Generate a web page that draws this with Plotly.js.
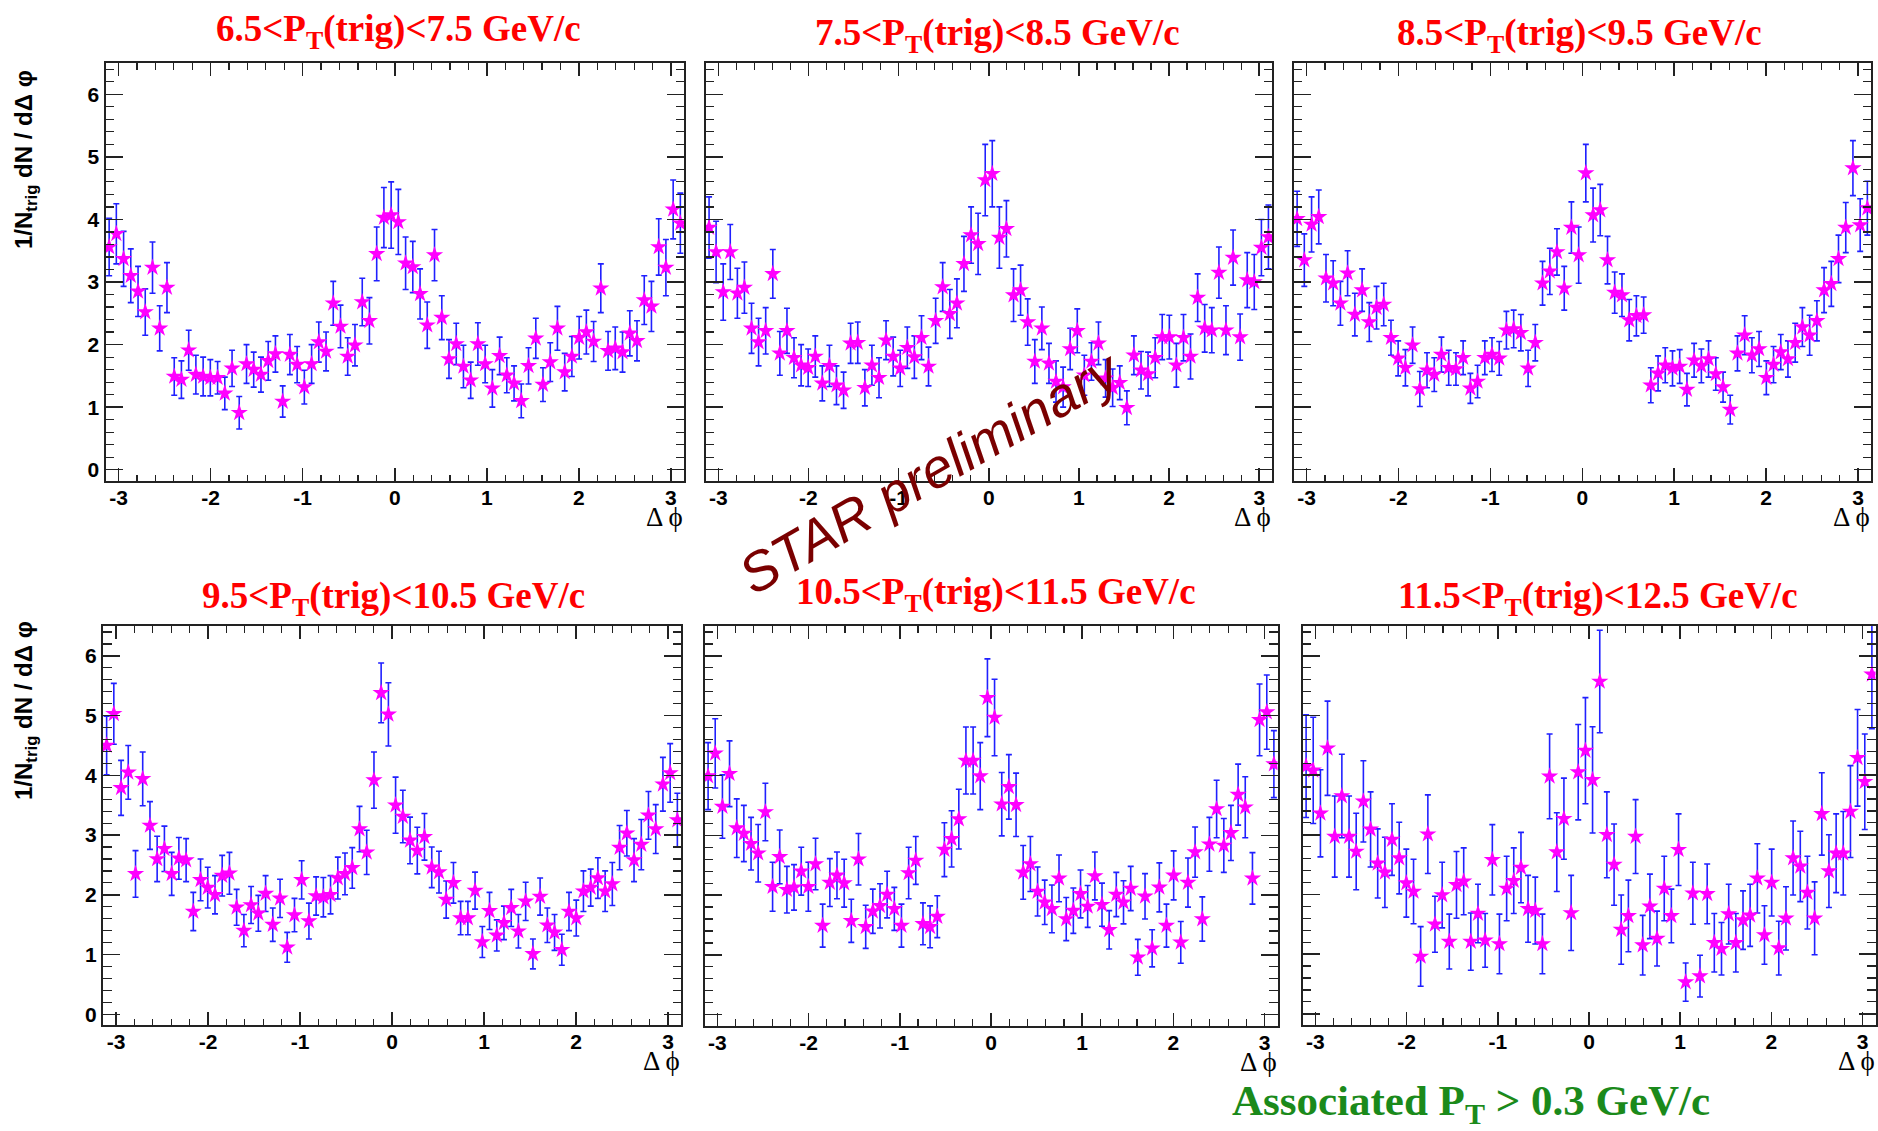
<!DOCTYPE html>
<html><head><meta charset="utf-8">
<script src="https://cdn.plot.ly/plotly-3.0.1.min.js"></script>
<style>html,body{margin:0;padding:0;background:#fff;} #chart{width:1878px;height:1131px;}</style>
</head><body><div id="chart"></div>
<script>
// Delta-phi bin centres (80 bins over -pi..pi)
const dphi = [-3.102,-3.024,-2.945,-2.867,-2.788,-2.710,-2.631,-2.553,-2.474,-2.395,
 -2.317,-2.238,-2.160,-2.081,-2.003,-1.924,-1.846,-1.767,-1.689,-1.610,
 -1.532,-1.453,-1.374,-1.296,-1.217,-1.139,-1.060,-0.982,-0.903,-0.825,
 -0.746,-0.668,-0.589,-0.511,-0.432,-0.353,-0.275,-0.196,-0.118,-0.039,
 0.039,0.118,0.196,0.275,0.353,0.432,0.511,0.589,0.668,0.746,
 0.825,0.903,0.982,1.060,1.139,1.217,1.296,1.374,1.453,1.532,
 1.610,1.689,1.767,1.846,1.924,2.003,2.081,2.160,2.238,2.317,
 2.395,2.474,2.553,2.631,2.710,2.788,2.867,2.945,3.024,3.102];

const panelTitles = ["6.5&lt;P<sub>T</sub>(trig)&lt;7.5 GeV/c","7.5&lt;P<sub>T</sub>(trig)&lt;8.5 GeV/c","8.5&lt;P<sub>T</sub>(trig)&lt;9.5 GeV/c",
 "9.5&lt;P<sub>T</sub>(trig)&lt;10.5 GeV/c","10.5&lt;P<sub>T</sub>(trig)&lt;11.5 GeV/c","11.5&lt;P<sub>T</sub>(trig)&lt;12.5 GeV/c"];

const xTickVals = [-3,-2,-1,0,1,2,3];
const xTickText = ["-3","-2","-1","0","1","2","3"];
const yTickVals = [0,1,2,3,4,5,6];
const yTickText = ["0","1","2","3","4","5","6"];

const yield1 = [3.56,3.77,3.37,3.10,2.85,2.52,3.23,2.26,2.91,1.49,
 1.44,1.91,1.52,1.49,1.47,1.47,1.22,1.62,0.91,1.69,
 1.60,1.52,1.74,1.85,1.09,1.84,1.68,1.32,1.69,2.04,
 1.89,2.66,2.29,1.81,1.99,2.68,2.38,3.45,4.03,4.07,
 3.96,3.30,3.24,2.81,2.31,3.43,2.43,1.77,2.01,1.65,
 1.43,2.01,1.69,1.30,1.82,1.51,1.38,1.10,1.66,2.10,
 1.36,1.72,2.26,1.56,1.81,2.11,2.20,2.05,2.90,1.90,
 1.94,1.88,2.18,2.06,2.71,2.61,3.56,3.23,4.16,3.94];
const err1 = [0.46,0.48,0.44,0.43,0.40,0.37,0.41,0.36,0.40,0.30,
 0.30,0.32,0.31,0.31,0.29,0.26,0.26,0.29,0.26,0.31,
 0.28,0.28,0.31,0.29,0.25,0.32,0.29,0.27,0.31,0.32,
 0.31,0.35,0.34,0.30,0.33,0.38,0.37,0.43,0.48,0.53,
 0.52,0.42,0.41,0.40,0.37,0.41,0.35,0.31,0.33,0.34,
 0.29,0.34,0.30,0.30,0.30,0.28,0.28,0.27,0.29,0.32,
 0.27,0.31,0.35,0.30,0.32,0.34,0.35,0.32,0.39,0.31,
 0.34,0.32,0.36,0.32,0.39,0.40,0.45,0.45,0.47,0.48];

const yield2 = [3.87,3.48,2.84,3.48,2.82,2.91,2.26,2.04,2.22,3.13,
 1.86,2.22,1.79,1.67,1.63,1.81,1.38,1.66,1.35,1.27,
 2.02,2.03,1.31,1.67,1.47,2.07,1.81,1.62,1.95,1.80,
 2.11,1.65,2.38,2.92,2.49,2.66,3.29,3.75,3.61,4.63,
 4.73,3.71,3.85,2.79,2.87,2.36,1.73,2.26,1.70,1.41,
 1.32,1.93,2.22,1.51,1.73,2.02,1.46,1.31,1.39,0.99,
 1.83,1.59,1.53,1.79,2.12,2.12,1.67,2.11,1.81,2.75,
 2.26,2.23,3.15,2.23,3.39,2.12,3.03,3.00,3.55,3.72];
const err2 = [0.49,0.49,0.45,0.44,0.40,0.41,0.40,0.38,0.37,0.39,
 0.35,0.36,0.32,0.33,0.30,0.33,0.28,0.33,0.31,0.29,
 0.32,0.33,0.29,0.32,0.32,0.31,0.31,0.29,0.33,0.34,
 0.35,0.31,0.36,0.39,0.39,0.39,0.44,0.45,0.49,0.57,
 0.53,0.49,0.45,0.42,0.40,0.37,0.35,0.34,0.32,0.33,
 0.32,0.33,0.35,0.32,0.30,0.34,0.30,0.30,0.27,0.27,
 0.31,0.30,0.35,0.32,0.36,0.35,0.35,0.37,0.36,0.38,
 0.38,0.36,0.41,0.39,0.44,0.37,0.44,0.44,0.45,0.51];

const yield3 = [4.01,3.35,3.92,4.04,3.06,2.98,2.66,3.14,2.48,2.87,
 2.36,2.59,2.64,2.11,1.78,1.63,1.99,1.29,1.59,1.52,
 1.84,1.63,1.61,1.79,1.30,1.41,1.79,1.84,1.78,2.23,
 2.25,2.19,1.62,2.03,2.98,3.17,3.48,2.90,3.87,3.43,
 4.74,4.07,4.15,3.35,2.83,2.79,2.39,2.46,2.47,1.35,
 1.54,1.67,1.62,1.65,1.28,1.75,1.66,1.77,1.53,1.32,
 0.96,1.86,2.15,1.83,1.93,1.47,1.68,1.88,1.77,2.03,
 2.28,2.15,2.38,2.87,2.97,3.37,3.87,4.82,3.91,4.18];
const err3 = [0.44,0.42,0.44,0.43,0.38,0.36,0.35,0.36,0.34,0.34,
 0.31,0.34,0.34,0.28,0.28,0.29,0.29,0.28,0.28,0.27,
 0.28,0.28,0.26,0.27,0.24,0.26,0.27,0.27,0.27,0.30,
 0.30,0.29,0.29,0.29,0.35,0.37,0.37,0.35,0.41,0.45,
 0.46,0.43,0.41,0.38,0.33,0.34,0.33,0.32,0.29,0.28,
 0.28,0.28,0.28,0.27,0.26,0.27,0.27,0.29,0.26,0.24,
 0.23,0.28,0.31,0.28,0.28,0.27,0.29,0.28,0.29,0.31,
 0.31,0.32,0.32,0.36,0.36,0.38,0.40,0.44,0.42,0.43];

const yield4 = [4.50,5.03,3.79,4.05,2.35,3.94,3.16,2.60,2.77,2.35,
 2.61,2.58,1.72,2.25,2.12,2.00,2.32,2.36,1.79,1.40,
 1.83,1.69,2.02,1.50,1.94,1.12,1.66,2.25,1.56,1.98,
 1.96,2.00,2.28,2.35,2.45,3.10,2.71,3.92,5.38,5.02,
 3.50,3.31,2.91,2.74,2.97,2.46,2.38,1.92,2.20,1.61,
 1.61,2.07,1.21,1.73,1.32,1.53,1.78,1.39,1.89,1.01,
 1.97,1.49,1.37,1.08,1.72,1.61,2.06,2.12,2.28,2.06,
 2.18,2.79,3.03,2.58,2.84,3.33,3.10,3.85,4.04,3.25];
const err4 = [0.49,0.51,0.46,0.45,0.39,0.45,0.40,0.38,0.38,0.36,
 0.35,0.36,0.32,0.35,0.34,0.32,0.34,0.35,0.30,0.27,
 0.31,0.30,0.30,0.28,0.32,0.25,0.28,0.32,0.30,0.32,
 0.33,0.32,0.35,0.35,0.34,0.38,0.37,0.47,0.50,0.53,
 0.47,0.44,0.39,0.39,0.39,0.34,0.35,0.31,0.34,0.28,
 0.28,0.31,0.26,0.31,0.26,0.28,0.31,0.28,0.32,0.25,
 0.31,0.29,0.30,0.26,0.32,0.30,0.34,0.31,0.34,0.34,
 0.36,0.37,0.38,0.36,0.42,0.40,0.41,0.45,0.49,0.45];

const yield5 = [3.99,4.37,3.48,4.03,3.12,3.03,2.86,2.70,3.39,2.14,
 2.64,2.09,2.13,2.40,2.14,2.52,1.49,2.21,2.33,2.20,
 1.57,2.60,1.47,1.73,1.82,2.01,1.77,1.49,2.37,2.58,
 1.52,1.47,1.64,2.76,2.94,3.27,4.25,4.25,3.99,5.30,
 4.97,3.52,3.81,3.51,2.38,2.52,2.06,1.88,1.77,2.28,
 1.60,1.74,2.02,1.81,2.32,1.84,1.42,2.01,1.88,2.11,
 0.96,1.98,1.11,2.13,1.49,2.33,1.21,2.21,2.72,1.60,
 2.85,3.44,2.83,3.04,3.68,3.47,2.28,4.93,5.06,4.19];
const err5 = [0.56,0.58,0.53,0.55,0.49,0.47,0.44,0.48,0.48,0.41,
 0.45,0.39,0.38,0.40,0.41,0.43,0.36,0.40,0.39,0.40,
 0.36,0.43,0.36,0.37,0.37,0.39,0.36,0.36,0.43,0.40,
 0.35,0.35,0.35,0.45,0.47,0.50,0.56,0.56,0.56,0.65,
 0.64,0.53,0.54,0.53,0.45,0.46,0.41,0.37,0.40,0.39,
 0.36,0.38,0.40,0.35,0.40,0.36,0.32,0.37,0.36,0.37,
 0.30,0.38,0.31,0.41,0.36,0.41,0.35,0.41,0.42,0.37,
 0.45,0.48,0.45,0.46,0.51,0.51,0.43,0.60,0.62,0.56];

const yield6 = [4.15,4.08,3.36,4.45,2.97,3.65,2.97,2.72,3.56,3.09,
 2.52,2.37,2.92,2.61,2.19,2.05,0.96,3.01,1.50,1.99,
 1.21,2.16,2.22,1.21,1.68,1.23,2.58,1.17,2.10,2.23,
 2.45,1.76,1.73,1.17,3.98,2.71,3.27,1.69,4.05,4.41,
 3.92,5.57,3.00,2.50,1.41,1.64,2.97,1.15,1.80,1.26,
 2.10,1.64,2.75,0.53,2.02,0.63,2.01,1.19,1.09,1.67,
 1.19,1.57,1.65,2.27,1.32,2.20,1.10,1.60,2.61,2.47,
 2.03,1.60,3.35,2.39,2.69,2.69,3.39,4.29,3.89,5.69];
const err6 = [0.86,0.89,0.73,0.79,0.68,0.70,0.68,0.64,0.68,0.63,
 0.58,0.59,0.60,0.60,0.57,0.54,0.50,0.66,0.47,0.55,
 0.46,0.56,0.56,0.48,0.49,0.45,0.59,0.50,0.54,0.55,
 0.59,0.56,0.56,0.50,0.71,0.66,0.68,0.63,0.80,0.89,
 0.89,0.86,0.72,0.68,0.58,0.60,0.62,0.50,0.54,0.46,
 0.54,0.45,0.60,0.32,0.52,0.35,0.50,0.49,0.44,0.50,
 0.49,0.49,0.52,0.58,0.49,0.56,0.45,0.53,0.62,0.59,
 0.61,0.61,0.69,0.61,0.66,0.70,0.77,0.81,0.80,0.91];

const yLabel = "1/N<sub>trig</sub> dN / dΔ φ";
const xLabel = "Δ ϕ";
const footText = "Associated P<sub>T</sub> &gt; 0.3 GeV/c";
const watermark = "STAR preliminary";

const series = [yield1,yield2,yield3,yield4,yield5,yield6];
const errors = [err1,err2,err3,err4,err5,err6];

// ---- layout geometry (pixels) ----
const W = 1878, H = 1131;
const frames = [
  [105.5,684,63,481],[705.5,1272,63,481],[1293.5,1871,63,481],
  [103,681,626,1025],[704.5,1277.5,626,1025.5],[1302.5,1875.5,626,1024.5]];
const titlePos = [[398,31],[997,35],[1579,35],[393,598],[996,594],[1598,598]];
const px = p => p / W;
const py = p => 1 - p / H;

const axisColor = '#222';
const tickFont = {family: 'Liberation Sans, Arial, sans-serif', size: 21, color: '#000', weight: 'bold'};
const traces = [];
const layout = {
  width: W, height: H,
  margin: {l:0, r:0, t:0, b:0},
  paper_bgcolor: '#fff', plot_bgcolor: '#fff',
  showlegend: false,
  annotations: []
};

series.forEach((ys, k) => {
  const sfx = k === 0 ? '' : String(k + 1);
  traces.push({
    type: 'scatter', mode: 'markers',
    x: dphi, y: ys,
    xaxis: 'x' + sfx, yaxis: 'y' + sfx,
    marker: {symbol: 'star', size: 13, color: '#ff00ff', line: {width: 0}},
    error_y: {type: 'data', array: errors[k], visible: true, color: '#2020ff', thickness: 1.6, width: 3},
    hoverinfo: 'x+y'
  });
  const f = frames[k];
  layout['xaxis' + sfx] = {
    domain: [px(f[0]), px(f[1])], range: [-Math.PI, Math.PI],
    anchor: 'y' + sfx,
    tickmode: 'array', tickvals: xTickVals, ticktext: xTickText,
    ticks: 'inside', ticklen: 13, tickwidth: 1.5, tickcolor: axisColor,
    minor: {dtick: 0.2, tick0: 0, ticks: 'inside', ticklen: 6.5, tickwidth: 1.2, tickcolor: axisColor, showgrid: false},
    showline: true, linecolor: axisColor, linewidth: 2, mirror: 'allticks',
    showgrid: false, zeroline: false, fixedrange: true,
    ticklabelstandoff: -3,
    tickfont: tickFont
  };
  layout['yaxis' + sfx] = {
    domain: [py(f[3]), py(f[2])], range: [-0.18, 6.5],
    anchor: 'x' + sfx,
    tickmode: 'array', tickvals: yTickVals, ticktext: yTickText,
    ticks: 'inside', ticklen: 17, tickwidth: 1.5, tickcolor: axisColor,
    minor: {dtick: 0.2, tick0: 0, ticks: 'inside', ticklen: 8.5, tickwidth: 1.2, tickcolor: axisColor, showgrid: false},
    showline: true, linecolor: axisColor, linewidth: 2, mirror: 'allticks',
    showgrid: false, zeroline: false, fixedrange: true,
    showticklabels: (k === 0 || k === 3),
    tickfont: tickFont
  };
  // panel title
  layout.annotations.push({
    xref: 'paper', yref: 'paper', x: px(titlePos[k][0]), y: py(titlePos[k][1]),
    xanchor: 'center', yanchor: 'middle', showarrow: false,
    text: panelTitles[k],
    font: {family: 'Liberation Serif, Times New Roman, serif', size: 37, color: '#ff0000', weight: 'bold'}
  });
  // delta-phi axis label at right end
  layout.annotations.push({
    xref: 'paper', yref: 'paper', x: px(f[1] + 1), y: py(f[3] + 36),
    xanchor: 'right', yanchor: 'middle', showarrow: false,
    text: xLabel,
    font: {family: 'Liberation Serif, Times New Roman, serif', size: 27, color: '#000'}
  });
});

// y-axis labels (rows)
[[25,160],[25,711]].forEach(p => {
  layout.annotations.push({
    xref: 'paper', yref: 'paper', x: px(p[0]), y: py(p[1]),
    xanchor: 'center', yanchor: 'middle', showarrow: false, textangle: -90,
    text: yLabel,
    font: {family: 'Liberation Sans, Arial, sans-serif', size: 24, color: '#000', weight: 'bold'}
  });
});

// footer
layout.annotations.push({
  xref: 'paper', yref: 'paper', x: px(1471), y: py(1104),
  xanchor: 'center', yanchor: 'middle', showarrow: false,
  text: footText,
  font: {family: 'Liberation Serif, Times New Roman, serif', size: 43, color: '#1b8a1b', weight: 'bold'}
});

// watermark
layout.annotations.push({
  xref: 'paper', yref: 'paper', x: px(930), y: py(472),
  xanchor: 'center', yanchor: 'middle', showarrow: false, textangle: -30,
  text: watermark,
  font: {family: 'Liberation Sans, Arial, sans-serif', size: 55, color: '#7a0000', style: 'italic'}
});

Plotly.newPlot('chart', traces, layout, {staticPlot: true, displayModeBar: false});
</script>
</body></html>
